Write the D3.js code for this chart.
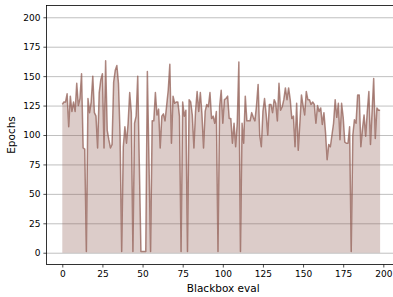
<!DOCTYPE html>
<html><head><meta charset="utf-8">
<script src="https://cdn.jsdelivr.net/npm/d3@7/dist/d3.min.js"></script>
<style>html,body{margin:0;padding:0;background:#fff;} svg{display:block;font-family:"DejaVu Sans",sans-serif;}</style>
</head><body><svg id="c" width="393" height="297"></svg>
<script>
const epochs = [126,128,128,135,107,133,120,128,120,144,
 125,131,152,89,88,1,131,119,128,150,
 119,116,89,136,147,152,89,163,104,96,
 89,92,145,155,159,144,100,1,90,107,
 93,110,136,119,1,110,116,150,75,1,
 1,1,1,154,78,1,112,112,136,117,
 122,89,116,118,112,125,138,160,93,133,
 127,128,128,116,1,128,116,121,1,130,
 128,117,89,120,137,120,136,118,89,120,
 126,124,136,114,116,110,120,1,124,138,
 110,130,131,133,114,114,93,110,90,110,
 162,1,110,93,133,112,112,112,119,115,
 112,125,143,100,90,120,131,118,100,126,
 126,119,130,127,112,144,121,124,130,140,
 130,140,130,114,116,90,127,87,110,134,
 125,117,137,130,130,126,128,126,110,125,
 120,123,109,119,102,79,92,90,100,110,
 130,115,127,96,127,115,94,93,93,107,
 1,100,113,110,134,134,90,105,117,99,
 120,137,92,120,148,97,123,121,121];
const evals = epochs.map((_, i) => i);
const xTicks = [0,25,50,75,100,125,150,175,200];
const yTicks = [0,25,50,75,100,125,150,175,200];
const xLabel = "Blackbox eval";
const yLabel = "Epochs";

const svg = d3.select("#c");
const L = 46.4, R = 396, T = 5.5, B = 264.5;
const x = d3.scaleLinear().domain([-9.9, 207.9]).range([L, R]);
const y = d3.scaleLinear().domain([-10, 210]).range([B, T]);
const data = evals.map((e, i) => ({x: e, y: epochs[i]}));

svg.append("defs").append("clipPath").attr("id","clip")
  .append("rect").attr("x", L).attr("y", T).attr("width", R - L).attr("height", B - T);

// grid
const gy = svg.append("g").attr("transform", `translate(${L},0)`)
  .call(d3.axisLeft(y).tickValues(yTicks).tickSize(-(R - L)).tickFormat(""));
gy.select(".domain").remove();
gy.selectAll("line").attr("stroke", "#b0b0b0").attr("stroke-width", 0.8);

const plot = svg.append("g").attr("clip-path", "url(#clip)");
plot.append("path").datum(data)
  .attr("fill", "#8c564b").attr("fill-opacity", 0.3)
  .attr("d", d3.area().x(d => x(d.x)).y0(y(0)).y1(d => y(d.y)));
plot.append("path").datum(data)
  .attr("fill", "none").attr("stroke", "#8c564b").attr("stroke-opacity", 0.7)
  .attr("stroke-width", 1.5).attr("stroke-linejoin", "round")
  .attr("d", d3.line().x(d => x(d.x)).y(d => y(d.y)));

// axes
const ax = svg.append("g").attr("transform", `translate(0,${B})`)
  .call(d3.axisBottom(x).tickValues(xTicks).tickSize(3).tickPadding(3).tickFormat(d3.format("d")));
const ay = svg.append("g").attr("transform", `translate(${L},0)`)
  .call(d3.axisLeft(y).tickValues(yTicks).tickSize(3).tickPadding(3).tickFormat(d3.format("d")));
[ax, ay].forEach(a => {
  a.select(".domain").remove();
  a.selectAll("line").attr("stroke", "#000").attr("stroke-width", 0.7);
  a.selectAll("text").attr("font-family", "DejaVu Sans").attr("font-size", 9).attr("fill", "#000");
});
// spines
svg.append("rect").attr("x", L).attr("y", T).attr("width", R - L).attr("height", B - T)
  .attr("fill", "none").attr("stroke", "#000").attr("stroke-width", 0.8);

svg.append("text").attr("x", (L + R) / 2 + 2).attr("y", 292).attr("text-anchor", "middle")
  .attr("font-size", 10.5).attr("fill", "#000").text(xLabel);
svg.append("text").attr("transform", `translate(15,${(T + B) / 2}) rotate(-90)`)
  .attr("text-anchor", "middle").attr("font-size", 10.5).attr("fill", "#000").text(yLabel);
</script></body></html>
